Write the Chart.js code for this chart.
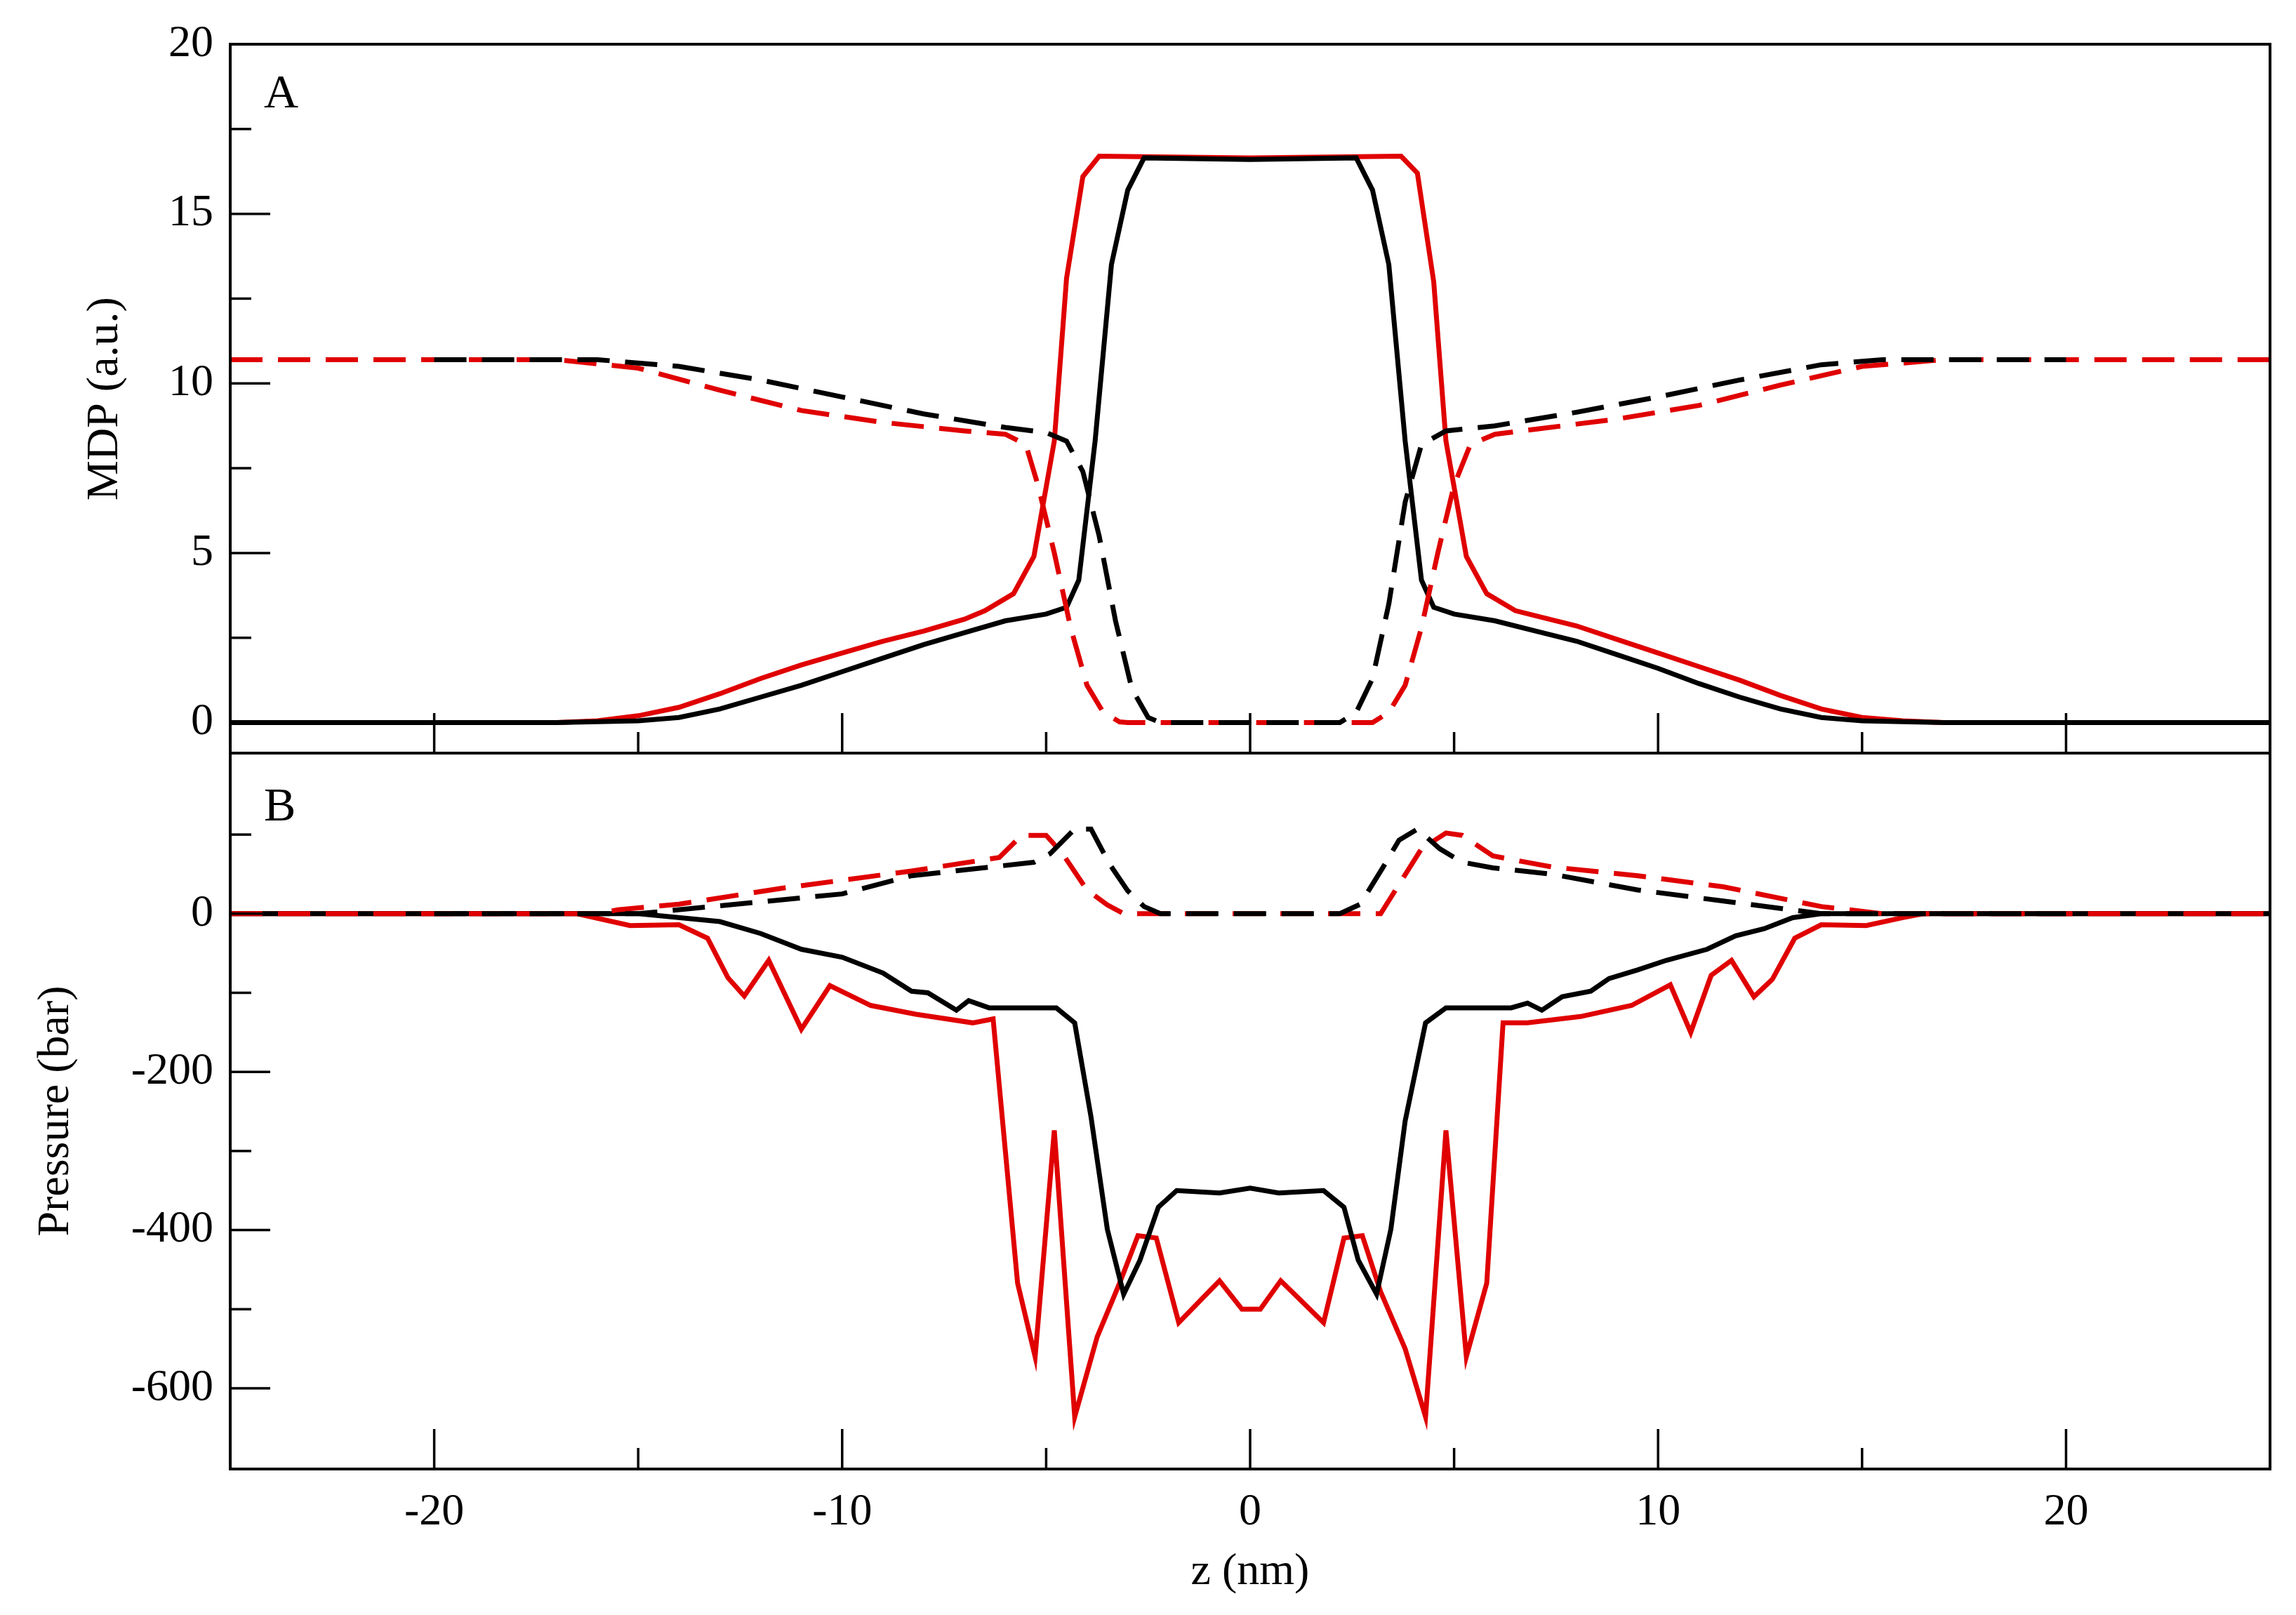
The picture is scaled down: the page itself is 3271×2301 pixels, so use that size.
<!DOCTYPE html>
<html>
<head>
<meta charset="utf-8">
<script src="https://cdn.jsdelivr.net/npm/chart.js@4.4.1/dist/chart.umd.min.js"></script>
<style>
  html, body { margin: 0; padding: 0; background: #fff; }
  body { width: 3271px; height: 2301px; position: relative; overflow: hidden; }
  canvas { position: absolute; left: 0; }
</style>
</head>
<body>
<canvas id="panelA" width="3271" height="1100" style="top:0"></canvas>
<canvas id="panelB" width="3271" height="1228" style="top:1073px"></canvas>
<script>
// Panel A: MDP (a.u.)
const zBlackSolidA = [-25, -17, -15, -14, -13, -12, -11, -10, -9, -8, -7, -6, -5, -4.5, -4.2, -3.8, -3.4, -3.0, -2.6, 0, 2.6, 3.0, 3.4, 3.8, 4.2, 4.5, 5, 6, 7, 8, 9, 10, 11, 12, 13, 14, 15, 17, 25]
const mdpBlackSolid = [0, 0, 0.05, 0.15, 0.4, 0.75, 1.1, 1.5, 1.9, 2.3, 2.65, 3.0, 3.2, 3.4, 4.2, 8.3, 13.5, 15.7, 16.65, 16.6, 16.65, 15.7, 13.5, 8.3, 4.2, 3.4, 3.2, 3.0, 2.7, 2.4, 2.0, 1.6, 1.15, 0.75, 0.4, 0.15, 0.05, 0, 0]
const zRedSolidA = [-25, -17, -16, -15, -14, -13, -12, -11, -10, -9, -8, -7, -6.5, -5.8, -5.3, -4.8, -4.5, -4.1, -3.7, 0, 3.7, 4.1, 4.5, 4.8, 5.3, 5.8, 6.5, 7, 8, 9, 10, 11, 12, 13, 14, 15, 16, 17, 25]
const mdpRedSolid = [0, 0, 0.05, 0.2, 0.45, 0.85, 1.3, 1.7, 2.05, 2.4, 2.7, 3.05, 3.3, 3.8, 4.9, 8.3, 13.1, 16.1, 16.7, 16.65, 16.7, 16.2, 13.0, 8.3, 4.9, 3.8, 3.3, 3.15, 2.85, 2.45, 2.05, 1.65, 1.25, 0.8, 0.4, 0.15, 0.05, 0, 0]
const zBlackDashA = [-20, -16, -14, -12, -10, -8, -6, -5, -4.5, -4.1, -3.7, -3.3, -2.9, -2.5, -2.2, 2.2, 2.6, 3.0, 3.4, 3.8, 4.2, 4.8, 6, 8, 10, 12, 14, 15.5, 20]
const mdpBlackDash = [10.7, 10.7, 10.5, 10.1, 9.6, 9.1, 8.7, 8.55, 8.3, 7.4, 5.5, 3.0, 1.0, 0.15, 0, 0, 0.3, 1.3, 3.5, 6.5, 8.2, 8.6, 8.75, 9.15, 9.6, 10.1, 10.55, 10.7, 10.7]
const zRedDashA = [-25, -17, -15, -13, -11, -9, -7, -6, -5.5, -5.2, -4.8, -4.4, -4.0, -3.6, -3.2, -3.0, 3.0, 3.4, 3.8, 4.2, 4.6, 5.0, 5.4, 6, 7, 9, 11, 13, 15, 17, 25]
const mdpRedDash = [10.7, 10.7, 10.45, 9.8, 9.2, 8.85, 8.6, 8.5, 8.2, 7.0, 5.0, 2.8, 1.1, 0.3, 0.02, 0, 0, 0.3, 1.1, 2.8, 5.0, 7.0, 8.2, 8.5, 8.65, 8.95, 9.35, 9.95, 10.5, 10.7, 10.7]

// Panel B: Pressure (bar)
const zBlackSolidB = [-25, -15, -13, -12, -11, -10, -9, -8.3, -7.9, -7.2, -6.9, -6.4, -5.2, -4.75, -4.3, -3.9, -3.5, -3.1, -2.7, -2.25, -1.8, -0.75, 0, 0.7, 1.8, 2.3, 2.65, 3.1, 3.45, 3.8, 4.3, 4.8, 6.4, 6.8, 7.15, 7.65, 8.35, 8.8, 9.5, 10.2, 11.2, 11.9, 12.6, 13.3, 14, 15, 25]
const pBlackSolid = [0, 0, -10, -25, -45, -55, -75, -98, -100, -122, -110, -119, -119, -119, -138, -257, -399, -481, -438, -371, -350, -353, -347, -353, -350, -371, -438, -481, -399, -262, -138, -119, -119, -113, -122, -105, -98, -82, -71, -59, -45, -28, -19, -5, 0, 0, 0]
const zRedSolidB = [-25, -16.5, -15.2, -14, -13.3, -12.8, -12.4, -11.8, -11, -10.3, -9.3, -8.2, -6.8, -6.3, -5.7, -5.27, -4.8, -4.3, -3.75, -3.2, -2.75, -2.3, -1.75, -0.75, -0.2, 0.25, 0.75, 1.8, 2.3, 2.75, 3.2, 3.8, 4.3, 4.8, 5.3, 5.8, 6.2, 6.8, 8.1, 9.35, 10.3, 10.8, 11.3, 11.8, 12.35, 12.8, 13.35, 14, 15.1, 16, 16.5, 25]
const pRedSolid = [0, 0, -15, -14, -31, -81, -104, -59, -146, -91, -116, -127, -138, -133, -467, -560, -274, -636, -535, -467, -407, -410, -517, -464, -500, -500, -464, -517, -410, -407, -478, -550, -636, -274, -560, -467, -138, -138, -130, -116, -90, -150, -78, -59, -105, -83, -31, -14, -15, -5, 0, 0]
const zBlackDashB = [-20, -15, -13, -10, -8.3, -5.3, -4.9, -4.3, -3.9, -3.45, -3.0, -2.6, -2.2, 2.2, 2.7, 3.25, 3.65, 4.1, 4.65, 5.2, 5.95, 7.4, 9.5, 11.6, 13.1, 14, 15.5, 20]
const pBlackDash = [0, 0, 10, 25, 48, 65, 76, 107, 107, 63, 29, 9, 0, 0, 12, 58, 93, 107, 82, 65, 58, 50, 30, 16, 6, 0, 0, 0]
const zRedDashB = [-25, -16, -15.5, -14, -11.5, -8.3, -6.15, -5.6, -5.0, -4.6, -4.0, -3.5, -3.1, 3.2, 3.65, 4.2, 4.8, 5.2, 5.95, 7.4, 9.5, 11.6, 14, 15.5, 25]
const pRedDash = [0, 0, 5, 12, 32, 54, 71, 99, 99, 76, 30, 11, 0, 0, 37, 82, 102, 99, 73, 59, 48, 34, 9, 0, 0]

const FONT = "Liberation Serif"
const LINE_W = 7
const DASH = [46, 22]

const pts = (zs, vs) => zs.map((z, i) => ({ x: z, y: vs[i] }))

const line = (zs, vs, color, dashed) => ({
  data: pts(zs, vs),
  borderColor: color,
  borderWidth: LINE_W,
  borderDash: dashed ? DASH : [],
  pointRadius: 0,
  tension: 0,
  fill: false,
})

// frame, inward ticks, tick labels and titles
const framePlugin = (cfg) => ({
  id: "frame",
  afterDraw(chart) {
    const { ctx, chartArea: a, scales } = chart
    ctx.save()
    ctx.strokeStyle = "#000"
    ctx.lineWidth = 4
    ctx.strokeRect(a.left, a.top, a.right - a.left, a.bottom - a.top)
    ctx.lineWidth = 3.5
    ctx.fillStyle = "#000"
    ctx.font = `64px "${FONT}"`

    for (const v of cfg.yMajor) {
      const y = scales.y.getPixelForValue(v)
      ctx.beginPath(); ctx.moveTo(a.left, y); ctx.lineTo(a.left + 57, y); ctx.stroke()
      ctx.textAlign = "right"; ctx.textBaseline = "middle"
      ctx.fillText(String(v), a.left - 24, y)
    }
    for (const v of cfg.yMinor) {
      const y = scales.y.getPixelForValue(v)
      ctx.beginPath(); ctx.moveTo(a.left, y); ctx.lineTo(a.left + 30, y); ctx.stroke()
    }
    for (const v of [-20, -10, 0, 10, 20]) {
      const x = scales.x.getPixelForValue(v)
      ctx.beginPath(); ctx.moveTo(x, a.bottom); ctx.lineTo(x, a.bottom - 57); ctx.stroke()
      if (cfg.xLabels) {
        ctx.textAlign = "center"; ctx.textBaseline = "top"
        ctx.fillText(String(v), x, a.bottom + 30)
      }
    }
    for (const v of [-15, -5, 5, 15]) {
      const x = scales.x.getPixelForValue(v)
      ctx.beginPath(); ctx.moveTo(x, a.bottom); ctx.lineTo(x, a.bottom - 30); ctx.stroke()
    }

    ctx.font = `68px "${FONT}"`
    ctx.textAlign = "left"; ctx.textBaseline = "alphabetic"
    ctx.fillText(cfg.letter, a.left + 48, a.top + cfg.letterDy)

    ctx.font = `64px "${FONT}"`
    ctx.save()
    ctx.translate(cfg.titleX, (a.top + a.bottom) / 2)
    ctx.rotate(-Math.PI / 2)
    ctx.textAlign = "center"; ctx.textBaseline = "middle"
    ctx.fillText(cfg.yTitle, 0, 0)
    ctx.restore()

    if (cfg.xTitle) {
      ctx.textAlign = "center"; ctx.textBaseline = "top"
      ctx.fillText(cfg.xTitle, (a.left + a.right) / 2, a.bottom + 115)
    }
    ctx.restore()
  },
})

const makeChart = (id, datasets, yMin, yMax, padding, cfg) =>
  new Chart(document.getElementById(id), {
    type: "line",
    data: { datasets },
    options: {
      responsive: false,
      devicePixelRatio: 1,
      animation: false,
      layout: { padding },
      plugins: { legend: { display: false }, tooltip: { enabled: false } },
      scales: {
        x: { type: "linear", min: -25, max: 25, display: false },
        y: { type: "linear", min: yMin, max: yMax, display: false },
      },
    },
    plugins: [framePlugin(cfg)],
  })

makeChart("panelA", [
  line(zBlackDashA, mdpBlackDash, "#000", true),
  line(zRedDashA, mdpRedDash, "#e00000", true),
  line(zBlackSolidA, mdpBlackSolid, "#000", false),
  line(zRedSolidA, mdpRedSolid, "#e00000", false),
], -0.9, 20, { left: 328, right: 3271 - 3234, top: 63, bottom: 1100 - 1073 }, {
  yMajor: [0, 5, 10, 15, 20], yMinor: [2.5, 7.5, 12.5, 17.5],
  letter: "A", letterDy: 90, yTitle: "MDP (a.u.)", titleX: 150, xLabels: false,
})

makeChart("panelB", [
  line(zBlackDashB, pBlackDash, "#000", true),
  line(zRedDashB, pRedDash, "#e00000", true),
  line(zBlackSolidB, pBlackSolid, "#000", false),
  line(zRedSolidB, pRedSolid, "#e00000", false),
], -702, 203, { left: 328, right: 3271 - 3234, top: 0, bottom: 1228 - 1020 }, {
  yMajor: [0, -200, -400, -600], yMinor: [100, -100, -300, -500],
  letter: "B", letterDy: 96, yTitle: "Pressure (bar)", titleX: 80, xLabels: true, xTitle: "z (nm)",
})
</script>
</body>
</html>
